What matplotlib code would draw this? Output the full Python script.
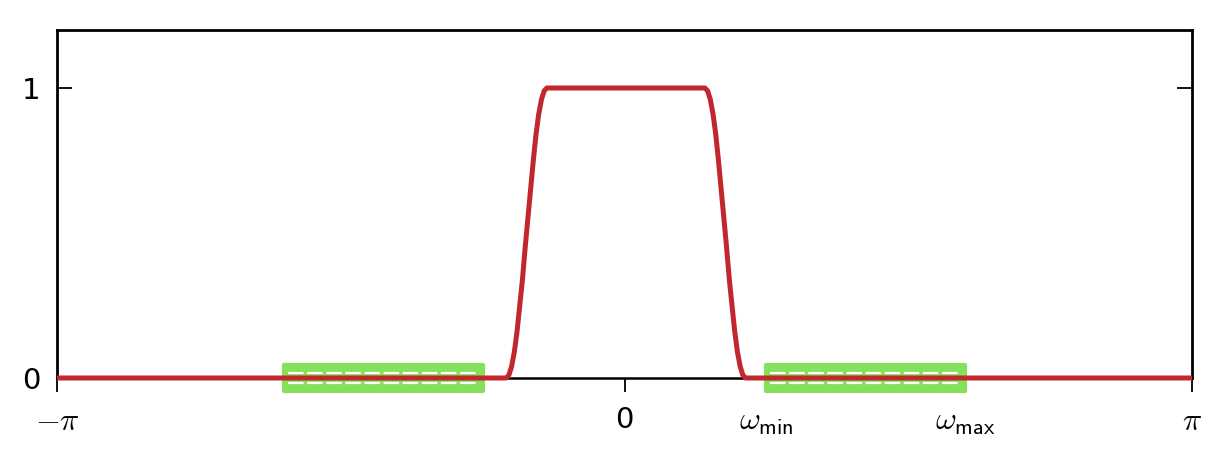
import numpy as np
import matplotlib
matplotlib.use("Agg")
import matplotlib.pyplot as plt
from matplotlib.patches import Rectangle

plt.rcParams['mathtext.fontset'] = 'cm'
plt.rcParams['font.family'] = 'DejaVu Sans'

# filter response (frequency in rad, gain)
freq = [-np.pi, -0.655, -0.640, -0.625, -0.610, -0.595, -0.580, -0.565, -0.550,
        -0.535, -0.520, -0.505, -0.490, -0.475, -0.460, -0.445, -0.430,
        0.445, 0.460, 0.475, 0.490, 0.505, 0.520, 0.535, 0.550, 0.565,
        0.580, 0.595, 0.610, 0.625, 0.640, 0.655, 0.670, np.pi]
gain = [0, 0, 0.01, 0.04, 0.09, 0.16, 0.25, 0.34, 0.45,
        0.55, 0.65, 0.75, 0.84, 0.91, 0.96, 0.99, 1.0,
        1.0, 0.99, 0.96, 0.91, 0.84, 0.75, 0.65, 0.55, 0.45,
        0.34, 0.25, 0.16, 0.09, 0.04, 0.01, 0, 0]

omega_min = 0.25 * np.pi
omega_max = 0.6 * np.pi
bands = [(-omega_max, -omega_min), (omega_min, omega_max)]

xticks = [-np.pi, 0, omega_min, omega_max, np.pi]
xlabels = [r'$-\pi$', '0', r'$\omega_{\mathsf{min}}$', r'$\omega_{\mathsf{max}}$', r'$\pi$']
yticks = [0, 1]

fig = plt.figure(figsize=(12.18, 4.58), dpi=100)
ax = fig.add_axes([0.0468, 0.1747, 0.9319, 0.7598])

# green stop bands with the white dashed inner pattern
for lo, hi in bands:
    ax.add_patch(Rectangle((lo, -0.045), hi - lo, 0.09, facecolor='#85e05c',
                           edgecolor='#85e05c', lw=3, joinstyle='round',
                           clip_on=False, zorder=2))
    for yy in (0.017, -0.017):
        ax.plot([lo + 0.02, hi - 0.02], [yy, yy], color='white', lw=1.6,
                dashes=(7, 1.6), clip_on=False, zorder=3)

ax.plot(freq, gain, color='#c1272d', lw=3.6, solid_joinstyle='round',
        solid_capstyle='butt', clip_on=False, zorder=4)

ax.set_xlim(-np.pi, np.pi)
ax.set_ylim(0, 1.2)

for s in ax.spines.values():
    s.set_linewidth(2)
ax.spines['bottom'].set_linewidth(1.8)

ax.set_xticks(xticks)
ax.set_xticklabels(xlabels, fontsize=23)
for lab in ax.get_xticklabels()[1:2]:
    lab.set_fontsize(21)
ax.set_yticks(yticks)
ax.set_yticklabels([str(v) for v in yticks], fontsize=21)
ax.tick_params(axis='x', direction='out', length=10, width=1.3, pad=10)
ax.tick_params(axis='y', direction='in', length=11, width=1.3, pad=12,
               right=True)

fig.savefig('out.png', dpi=100)
